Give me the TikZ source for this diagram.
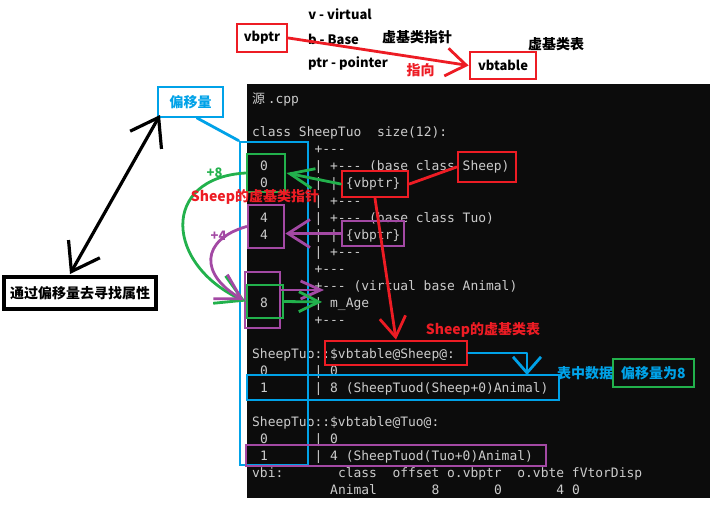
\documentclass[tikz,border=0pt]{standalone}
\usepackage{fontspec}
\usetikzlibrary{arrows.meta}
\newfontfamily\cjk{Noto Sans CJK SC}
\newfontfamily\mono{DejaVu Sans Mono}[Ligatures=TeXOff]
\definecolor{termbg}{HTML}{0C0C0C}
\definecolor{termfg}{HTML}{CCCCCC}
\definecolor{pred}{HTML}{ED1C24}
\definecolor{pgreen}{HTML}{22B14C}
\definecolor{ppurple}{HTML}{A349A4}
\definecolor{pblue}{HTML}{00A2E8}
\tikzset{
  term/.style={font=\mono\fontsize{12.95}{13}\selectfont, text=termfg, anchor=base west, inner sep=0pt},
  ann/.style={font=\cjk\bfseries\fontsize{13}{13}\selectfont, inner sep=0pt},
  annc/.style={font=\cjk\bfseries\fontsize{14}{14}\selectfont, inner sep=0pt},
  pbox/.style={draw=#1, line width=2.8pt, inner sep=0pt},
  pline/.style={draw=#1, line width=2.8pt, line cap=round, line join=round},
}
\newcommand\TL[3]{\node[term] (t#1x#2) at ({252+7.8*#2},{136.8+17.05*#1}) {#3};}
\begin{document}
\begin{tikzpicture}[x=1pt,y=-1pt]
\useasboundingbox (0,0) rectangle (717,511);
\fill[white] (0,0) rectangle (717,511);
\fill[termbg] (247,84) rectangle (710,498);
% terminal text
\node[term] (src1) at (252,103.5) {\cjk 源};
\node[term] (src2) at ({252+2*7.8},103.5) {.cpp};
\TL{0}{0}{class SheepTuo}
\TL{0}{16}{size(12):}
\TL{1}{8}{+---}
\TL{2}{1}{0}\TL{2}{8}{| +--- (base class Sheep)}
\TL{3}{1}{0}\TL{3}{8}{| | \{vbptr\}}
\TL{4}{8}{| +---}
\TL{5}{1}{4}\TL{5}{8}{| +--- (base class Tuo)}
\TL{6}{1}{4}\TL{6}{8}{| | \{vbptr\}}
\TL{7}{8}{| +---}
\TL{8}{8}{+---}
\TL{9}{8}{+--- (virtual base Animal)}
\TL{10}{1}{8}\TL{10}{8}{| m\_Age}
\TL{11}{8}{+---}
\TL{13}{0}{SheepTuo::\$vbtable@Sheep@:}
\TL{14}{1}{0}\TL{14}{8}{| 0}
\TL{15}{1}{1}\TL{15}{8}{| 8 (SheepTuod(Sheep+0)Animal)}
\TL{17}{0}{SheepTuo::\$vbtable@Tuo@:}
\TL{18}{1}{0}\TL{18}{8}{| 0}
\TL{19}{1}{1}\TL{19}{8}{| 4 (SheepTuod(Tuo+0)Animal)}
\TL{20}{0}{vbi:}\TL{20}{11}{class}\TL{20}{18}{offset o.vbptr}\TL{20}{34}{o.vbte fVtorDisp}
\TL{21}{10}{Animal}\TL{21}{23}{8}\TL{21}{31}{0}\TL{21}{39}{4}\TL{21}{41}{0}
% top annotations
\node[ann] (lv) at (340,14) {v - virtual};
\node[ann] (lb) at (333.5,39) {b - Base};
\node[ann] (lp) at (348,63) {ptr - pointer};
\node[annc] (lvbp) at (417,37) {虚基类指针};
\node[annc] (lvbt) at (556,44) {虚基类表};
\node[annc, text=pred] (lzx) at (420.5,70) {指向};
\node[ann, pbox=pred, minimum width=50pt, minimum height=28pt] (vbptrbox) at (262,38) {vbptr};
\node[ann, pbox=pred, minimum width=66pt, minimum height=27pt] (vbtablebox) at (503,65.5) {vbtable};
\draw[pline=pred, -{Straight Barb[length=20pt,width=28pt]}] (vbptrbox.east) -- (vbtablebox.west);
% left annotations
\node[annc, text=pblue, pbox=pblue, minimum width=65pt, minimum height=30pt] (offbox) at (190.5,102) {偏移量};
\node[annc, pbox=black, line width=3.2pt, minimum width=152pt, minimum height=32pt] (findbox) at (80,293) {通过偏移量去寻找属性};
\coordinate (dTop) at (160,115);
\coordinate (dBot) at (70,274);
\draw[pline=black, line width=3.2pt, {Straight Barb[length=26pt,width=36pt]}-{Straight Barb[length=26pt,width=36pt]}] (dBot) -- (dTop);
\node[pbox=pblue, minimum width=68pt, minimum height=323pt] (bigblue) at (274,303.5) {};
\coordinate (offlink) at (197,118);
\draw[pline=pblue] (offlink) -- (bigblue.north west);
% boxes in terminal
\node[pbox=pgreen, minimum width=38pt, minimum height=38pt] (g00) at (266,173) {};
\node[pbox=ppurple, minimum width=36pt, minimum height=43pt] (p44) at (266,226.5) {};
\node[pbox=ppurple, minimum width=35pt, minimum height=56pt] (p8) at (262.5,300) {};
\node[pbox=pgreen, minimum width=36pt, minimum height=33pt] (g8) at (265,301.5) {};
\node[pbox=pred, minimum width=66pt, minimum height=26pt] (vbR) at (375,184) {};
\node[pbox=pred, minimum width=58pt, minimum height=30pt] (sheepR) at (487,167) {};
\node[pbox=ppurple, minimum width=62pt, minimum height=25pt] (pv) at (373,233.5) {};
\node[pbox=pred, minimum width=142pt, minimum height=24pt] (vtR) at (396,353) {};
\node[pbox=pblue, minimum width=312pt, minimum height=25pt] (brow) at (403,387.5) {};
\node[pbox=ppurple, minimum width=300pt, minimum height=21pt] (prow) at (396,455.5) {};
\node[annc, text=pblue, pbox=pgreen, minimum width=81pt, minimum height=28pt] (off8) at (653.5,373) {偏移量为8};
% connectors
\draw[pline=pred] (vbR.east) -- (sheepR.west);
\draw[pline=pred, -{Straight Barb[length=20pt,width=26pt]}] (vbR.south) -- (vtR.north);
\coordinate (btip) at (527,375);
\draw[pline=pblue, -{Straight Barb[length=16pt,width=28pt]}] (vtR.east) -| (btip);
\draw[pline=pgreen, -{Straight Barb[length=24pt,width=20pt]}] (vbR.west) -- (g00.east);
\draw[pline=ppurple, -{Straight Barb[length=22pt,width=28pt]}] (pv.west) -- (p44.east |- pv.west);
\draw[pline=pgreen, -{Straight Barb[length=26pt,width=30pt]}] (g00.west) .. controls (160,178) and (165,265) .. (g8.west);
\draw[pline=ppurple, -{Straight Barb[length=24pt,width=28pt]}] (p44.west) .. controls (200,240) and (200,275) .. (p8.west);
\coordinate (animTip) at (324,290);
\draw[pline=ppurple, -{Straight Barb[length=20pt,width=18pt]}] (p8.east |- animTip) -- (animTip);
\coordinate (ageTip) at (322,302);
\draw[pline=pgreen, -{Straight Barb[length=20pt,width=20pt]}] (g8.east) -- (ageTip);
% labels
\node[annc, text=pred] (lsp) at (255,197) {Sheep的虚基类指针};
\node[annc, text=pred] (lst) at (483,330) {Sheep的虚基类表};
\node[annc, text=pblue] (lbz) at (585,373) {表中数据};
\node[ann, text=pgreen] (l8) at (214.5,173) {+8};
\node[ann, text=ppurple] (l4) at (218.5,236) {+4};
\end{tikzpicture}
\end{document}
